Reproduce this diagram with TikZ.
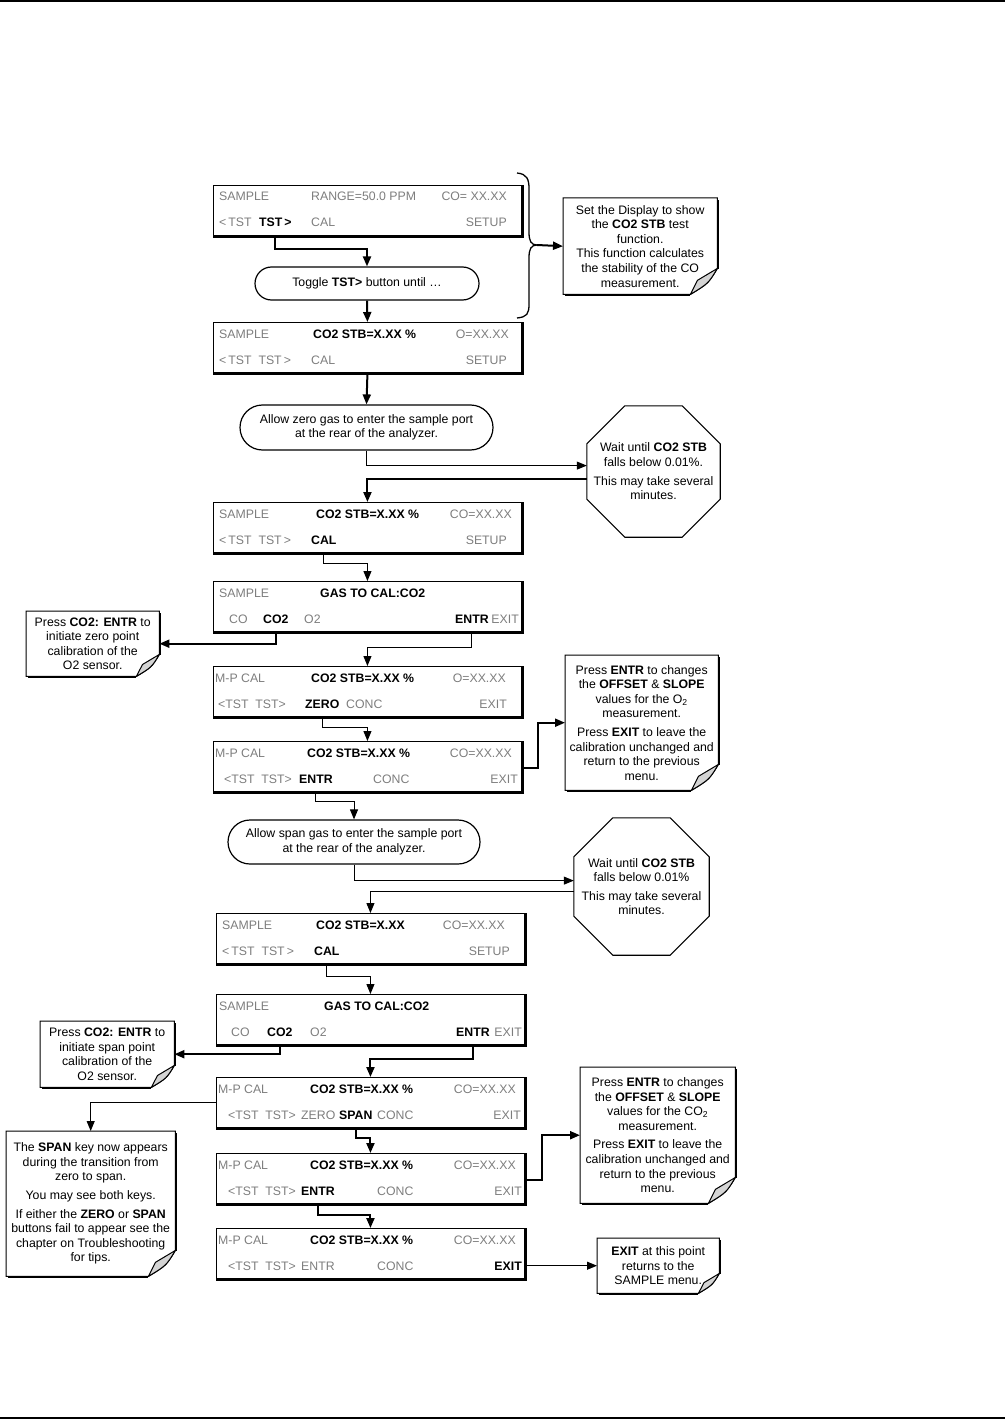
\documentclass[tikz,border=0pt]{standalone}
\usepackage{fontspec}
\setmainfont{Liberation Sans}
\usetikzlibrary{arrows.meta,calc,shapes.geometric,shapes.misc}
\definecolor{lcdgray}{RGB}{125,125,125}
\definecolor{foldgray}{RGB}{212,212,212}
\newcommand\dogear[2][26]{%
  \draw[line width=1pt, line join=miter] (#2.north west) -- (#2.north east) -- ($(#2.south east)+(0,-#1)$) .. controls ($(#2.south east)+(-0.35*#1,-0.42*#1)$) .. ($(#2.south east)+(-#1-1,0)$) -- (#2.south west) -- cycle;
  \draw[line width=1pt, fill=foldgray] ($(#2.south east)+(0,-#1)$) -- ($(#2.south east)+(-0.77*#1,-0.54*#1)$) -- ($(#2.south east)+(-#1-1,0)$) .. controls ($(#2.south east)+(-0.35*#1,-0.42*#1)$) .. ($(#2.south east)+(0,-#1)$) -- cycle;
  \draw[line width=2pt] ($(#2.north east)+(1,2)$) -- ($(#2.south east)+(1,-#1+1)$);
  \draw[line width=2pt] ($(#2.south west)+(2,1)$) -- ($(#2.south east)+(-#1-1,1)$);
}
\newcommand\lcdedge[1]{%
  \draw[line width=2.2pt] ($(#1.north east)+(0.6,0)$) -- ($(#1.south east)+(0.6,0.6)$) -- ($(#1.south west)+(0,0.6)$);
}
\newcommand\octframe[2]{%
  \draw[line width=1.1pt, line join=miter] ($(#1.north west)+(#2,0)$) -- ($(#1.north east)+(-#2,0)$) -- ($(#1.north east)+(0,#2)$) -- ($(#1.south east)+(0,-#2)$) -- ($(#1.south east)+(-#2,0)$) -- ($(#1.south west)+(#2,0)$) -- ($(#1.south west)+(0,-#2)$) -- ($(#1.north west)+(0,#2)$) -- cycle;
}
\begin{document}
\begin{tikzpicture}[x=1pt,y=-1pt,
  every node/.style={font=\fontsize{12.3}{14.6}\selectfont},
  screen/.style={draw, line width=0.9pt, minimum width=308pt, minimum height=50pt, anchor=north west, inner sep=0},
  lg/.style={text=lcdgray, anchor=base west, inner sep=0},
  lgr/.style={lg, anchor=base east},
  bk/.style={text=black, font=\fontsize{12.3}{14.6}\selectfont\bfseries, anchor=base west, inner sep=0},
  bkr/.style={bk, anchor=base east},
  pill/.style={draw, line width=1.2pt, rounded rectangle, inner sep=0, align=center},
  note/.style={inner sep=0, align=center, anchor=north west},
  octa/.style={inner sep=0, align=center},
  thk/.style={line width=2pt, -{Triangle[length=10pt,width=8pt]}},
  thn/.style={line width=1pt, -{Triangle[length=10pt,width=8pt]}},
]
\useasboundingbox (0,0) rectangle (1005,1420);
\draw[line width=1.5pt] (0,1) -- (1005,1);
\draw[line width=1.5pt] (0,1418) -- (1005,1418);

% ---------- screen 1
\node[screen] (s1) at (213,185) {};
\node[lg] (s1a) at (219,201) {SAMPLE};
\node[lg] (s1b) at (311,201) {RANGE=50.0 PPM};
\node[lgr] (s1c) at (507,201) {CO= XX.XX};
\node[lg] (s1d) at (219,227) {<\,TST};
\node[bk] (s1e) at (259,227) {TST\,>};
\node[lg] (s1f) at (311,227) {CAL};
\node[lgr] (s1g) at (507,227) {SETUP};

\node[pill, minimum width=224pt, minimum height=33pt] (p1) at (367,283.5) {Toggle \textbf{TST>} button until \dots};

% ---------- screen 2
\node[screen] (s2) at (213,322) {};
\node[lg] (s2a) at (219,338) {SAMPLE};
\node[bk] (s2b) at (313,338) {CO2 STB=X.XX \%};
\node[lgr] (s2c) at (509,338) {O=XX.XX};
\node[lg] (s2d) at (219,364) {<\,TST\ \ TST\,>};
\node[lg] (s2f) at (311,364) {CAL};
\node[lgr] (s2g) at (507,364) {SETUP};

% brace + note 1
\draw[line width=1.3pt] (517,173) .. controls (527,174) and (529,179) .. (529,189) -- (529,232) .. controls (529,241) and (531,245) .. (537,245) .. controls (531,245) and (529,249) .. (529,258) -- (529,304) .. controls (529,314) and (527,317) .. (517,318);
\coordinate (bt) at (537,245);
\node[note, minimum width=154pt, minimum height=96pt] (n1) at (563,198) {Set the Display to show\\the \textbf{CO2 STB} test\\function.\\This function calculates\\the stability of the CO\\measurement.};
\dogear{n1}

\node[pill, minimum width=253pt, minimum height=45pt] (p2) at (366.5,427.5) {Allow zero gas to enter the sample port\\at the rear of the analyzer.};

\node[octa, minimum width=133pt, minimum height=131pt] (o1) at (653.5,471.5) {Wait until \textbf{CO2 STB}\\falls below 0.01\%.\\[4pt]This may take several\\minutes.};
\octframe{o1}{38}

% ---------- screen 3
\node[screen] (s3) at (213,502) {};
\node[lg] (s3a) at (219,518) {SAMPLE};
\node[bk] (s3b) at (316,518) {CO2 STB=X.XX \%};
\node[lgr] (s3c) at (512,518) {CO=XX.XX};
\node[lg] (s3d) at (219,544) {<\,TST\ \ TST\,>};
\node[bk] (s3f) at (311,544) {CAL};
\node[lgr] (s3g) at (507,544) {SETUP};

% ---------- screen 4
\node[screen] (s4) at (213,581) {};
\node[lg] (s4a) at (219,597) {SAMPLE};
\node[bk] (s4b) at (320,597) {GAS TO CAL:CO2};
\node[lg] (s4c) at (229,623) {CO};
\node[bk] (s4d) at (263,623) {CO2};
\node[lg] (s4e) at (304,623) {O2};
\node[bk] (s4f) at (455,623) {ENTR};
\node[lgr] (s4g) at (519,623) {EXIT};

\node[note, minimum width=133pt, minimum height=65pt] (n2) at (26,611) {Press \textbf{CO2: ENTR} to\\initiate zero point\\calibration of the\\O2 sensor.};
\dogear[22]{n2}

% ---------- screen 5
\node[screen] (s5) at (213,666) {};
\node[lg] (s5a) at (215,682) {M-P CAL};
\node[bk] (s5b) at (311,682) {CO2 STB=X.XX \%};
\node[lgr] (s5c) at (506,682) {O=XX.XX};
\node[lg] (s5d) at (218,708) {<TST\ \ TST>};
\node[bk] (s5e) at (305,708) {ZERO};
\node[lg] (s5f) at (346,708) {CONC};
\node[lgr] (s5g) at (507,708) {EXIT};

% ---------- screen 6
\node[screen] (s6) at (213,741) {};
\node[lg] (s6a) at (215,757) {M-P CAL};
\node[bk] (s6b) at (307,757) {CO2 STB=X.XX \%};
\node[lgr] (s6c) at (512,757) {CO=XX.XX};
\node[lg] (s6d) at (224,783) {<TST\ \ TST>};
\node[bk] (s6e) at (299,783) {ENTR};
\node[lg] (s6f) at (373,783) {CONC};
\node[lgr] (s6g) at (518,783) {EXIT};

\node[note, minimum width=153pt, minimum height=135pt] (n3) at (565,655) {Press \textbf{ENTR} to changes\\the \textbf{OFFSET} \& \textbf{SLOPE}\\values for the O\textsubscript{2}\\measurement.\\[4pt]Press \textbf{EXIT} to leave the\\calibration unchanged and\\return to the previous\\menu.};
\dogear{n3}

\node[pill, minimum width=252pt, minimum height=44pt] (p3) at (354,842) {Allow span gas to enter the sample port\\at the rear of the analyzer.};

\node[octa, minimum width=135pt, minimum height=137pt] (o2) at (641.5,886.5) {Wait until \textbf{CO2 STB}\\falls below 0.01\%\\[4pt]This may take several\\minutes.};
\octframe{o2}{39}

% ---------- screen 7
\node[screen] (s7) at (216,913) {};
\node[lg] (s7a) at (222,929) {SAMPLE};
\node[bk] (s7b) at (316,929) {CO2 STB=X.XX};
\node[lgr] (s7c) at (505,929) {CO=XX.XX};
\node[lg] (s7d) at (222,955) {<\,TST\ \ TST\,>};
\node[bk] (s7f) at (314,955) {CAL};
\node[lgr] (s7g) at (510,955) {SETUP};

% ---------- screen 8
\node[screen] (s8) at (216,994) {};
\node[lg] (s8a) at (219,1010) {SAMPLE};
\node[bk] (s8b) at (324,1010) {GAS TO CAL:CO2};
\node[lg] (s8c) at (231,1036) {CO};
\node[bk] (s8d) at (267,1036) {CO2};
\node[lg] (s8e) at (310,1036) {O2};
\node[bk] (s8f) at (456,1036) {ENTR};
\node[lgr] (s8g) at (522,1036) {EXIT};

\node[note, minimum width=134pt, minimum height=66pt] (n4) at (40,1021) {Press \textbf{CO2: ENTR} to\\initiate span point\\calibration of the\\O2 sensor.};
\dogear[22]{n4}

% ---------- screen 9
\node[screen] (s9) at (216,1077) {};
\node[lg] (s9a) at (218,1093) {M-P CAL};
\node[bk] (s9b) at (310,1093) {CO2 STB=X.XX \%};
\node[lgr] (s9c) at (516,1093) {CO=XX.XX};
\node[lg] (s9d) at (228,1119) {<TST\ \ TST>};
\node[lg] (s9e) at (301,1119) {ZERO};
\node[bk] (s9f) at (339,1119) {SPAN};
\node[lg] (s9g) at (377,1119) {CONC};
\node[lgr] (s9h) at (521,1119) {EXIT};

\node[note, minimum width=169pt, minimum height=145pt] (n5) at (6,1131) {The \textbf{SPAN} key now appears\\during the transition from\\zero to span.\\[4pt]You may see both keys.\\[4pt]If either the \textbf{ZERO} or \textbf{SPAN}\\buttons fail to appear see the\\chapter on Troubleshooting\\for tips.};
\dogear{n5}

% ---------- screen 10
\node[screen] (s10) at (216,1153) {};
\node[lg] (s10a) at (218,1169) {M-P CAL};
\node[bk] (s10b) at (310,1169) {CO2 STB=X.XX \%};
\node[lgr] (s10c) at (516,1169) {CO=XX.XX};
\node[lg] (s10d) at (228,1195) {<TST\ \ TST>};
\node[bk] (s10e) at (301,1195) {ENTR};
\node[lg] (s10f) at (377,1195) {CONC};
\node[lgr] (s10g) at (522,1195) {EXIT};

\node[note, minimum width=155pt, minimum height=136pt] (n6) at (580,1067) {Press \textbf{ENTR} to changes\\the \textbf{OFFSET} \& \textbf{SLOPE}\\values for the CO\textsubscript{2}\\measurement.\\[4pt]Press \textbf{EXIT} to leave the\\calibration unchanged and\\return to the previous\\menu.};
\dogear{n6}

% ---------- screen 11
\node[screen] (s11) at (216,1228) {};
\node[lg] (s11a) at (218,1244) {M-P CAL};
\node[bk] (s11b) at (310,1244) {CO2 STB=X.XX \%};
\node[lgr] (s11c) at (516,1244) {CO=XX.XX};
\node[lg] (s11d) at (228,1270) {<TST\ \ TST>};
\node[lg] (s11e) at (301,1270) {ENTR};
\node[lg] (s11f) at (377,1270) {CONC};
\node[bkr] (s11g) at (522,1270) {EXIT};

\node[note, minimum width=122pt, minimum height=55pt] (n7) at (597,1238) {\textbf{EXIT} at this point\\returns to the\\SAMPLE menu.};
\dogear[20]{n7}

\foreach \s in {s1,s2,s3,s4,s5,s6,s7,s8,s9,s10,s11} {\lcdedge{\s}}

% ---------- connectors
\draw[thk] (s1.south -| s1e) -- ++(0,13) -| (p1.north);
\draw[thk] (p1.south) -- (s2.north);
\draw[thk] (bt) -- (n1.west);
\draw[thk] (s2.south) -- (p2.north);
\draw[thn] (p2.south) -- ++(0,15) coordinate (c1) -- (c1 -| o1.west);
\draw[thk] ($(o1.west)+(0,7)$) -| (s3.north);
\draw[thn] (s3.south -| s3f) -- ++(0,11) -| (s4.north);
\draw[thk] (s4.south -| s4d) |- (n2.east);
\draw[thn] (s4.south -| s4f) -- ++(0,16) -| (s5.north);
\draw[thn] (s5.south -| s5e) -- ++(0,11) -| (s6.north);
\draw[thk] ($(s6.east)+(0,2)$) -- ++(16,0) |- (n3.west);
\draw[thn] (s6.south -| s6e) -- ++(0,10) -| (p3.north);
\draw[thn] (p3.south) -- ++(0,16) coordinate (c2) -- (c2 -| o2.west);
\draw[thn] ($(o2.west)+(0,5)$) -| (s7.north);
\draw[thn] (s7.south -| s7f) -- ++(0,13) -| (s8.north);
\draw[thk] (s8.south -| s8d) |- (n4.east);
\draw[thk] (s8.south -| s8f) -- ++(0,14) -| (s9.north);
\draw[thn] (s9.west) -| (n5.north);
\draw[thk] (s9.south -| s9f) -- ++(0,10) -| (s10.north);
\draw[thk] ($(s10.east)+(0,2)$) -- ++(17,0) |- (n6.west);
\draw[thk] (s10.south -| s10e) -- ++(0,11) -| (s11.north);
\draw[thn] (s11.east |- n7.west) -- (n7.west);
\end{tikzpicture}
\end{document}
